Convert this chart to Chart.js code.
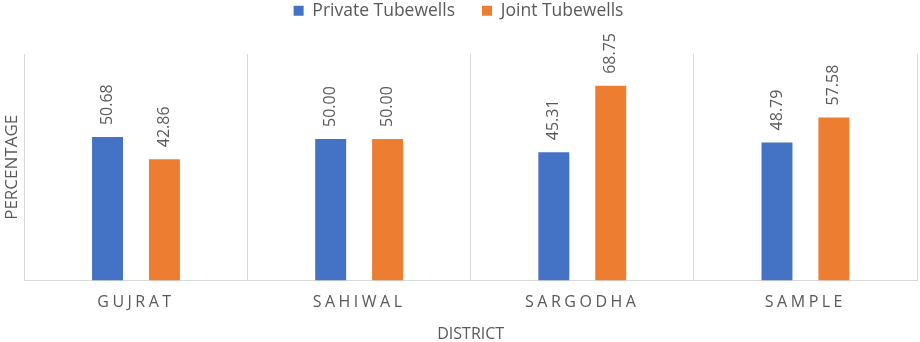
<!DOCTYPE html>
<html>
<head>
<meta charset="utf-8">
<script src="https://cdn.jsdelivr.net/npm/chart.js@4"></script>
<style>
  html, body { margin: 0; padding: 0; background: #ffffff; }
  #wrap { width: 920px; height: 342px; }
</style>
</head>
<body>
<div id="wrap"><canvas id="c" width="920" height="342"></canvas></div>
<script>
const categories = ["GUJRAT", "SAHIWAL", "SARGODHA", "SAMPLE"];
const privateTubewells = [50.68, 50.00, 45.31, 48.79];
const jointTubewells = [42.86, 50.00, 68.75, 57.58];
const seriesNames = ["Private Tubewells", "Joint Tubewells"];

const FONT = "'Open Sans', 'Noto Sans', sans-serif";
const TEXT = "#595959";
const GRID = "#D9D9D9";

const helpers = {
  id: "helpers",
  beforeLayout(chart) {
    const lg = chart.legend;
    if (lg && !lg._patched) {
      const fit = lg.fit;
      lg.fit = function () { fit.call(this); this.height = 79; };
      lg._patched = true;
    }
  },
  beforeDraw(chart) {
    const sx = chart.scales.x;
    if (sx && !sx._patched) {
      const orig = sx.drawLabels;
      sx.drawLabels = function (area) {
        const ctx = this.ctx;
        ctx.save();
        ctx.letterSpacing = "3.5px";
        orig.call(this, area);
        ctx.restore();
      };
      sx._patched = true;
    }
  },
  afterDatasetsDraw(chart) {
    const ctx = chart.ctx;
    chart.data.datasets.forEach((ds, di) => {
      const meta = chart.getDatasetMeta(di);
      meta.data.forEach((el, i) => {
        ctx.save();
        ctx.translate(el.x, el.y - 12);
        ctx.rotate(-Math.PI / 2);
        ctx.font = "16px " + FONT;
        ctx.fillStyle = TEXT;
        ctx.textAlign = "left";
        ctx.textBaseline = "middle";
        ctx.fillText(ds.data[i].toFixed(2), 0, 0);
        ctx.restore();
      });
    });
  }
};

new Chart(document.getElementById("c"), {
  type: "bar",
  data: {
    labels: categories,
    datasets: [
      { label: seriesNames[0], data: privateTubewells, backgroundColor: "#4472C4", borderWidth: 0 },
      { label: seriesNames[1], data: jointTubewells, backgroundColor: "#ED7D31", borderWidth: 0 }
    ]
  },
  options: {
    responsive: false,
    animation: false,
    devicePixelRatio: 1,
    categoryPercentage: 0.51,
    barPercentage: 0.544,
    layout: { padding: { top: -25, right: 3, left: 0, bottom: -2 } },
    plugins: {
      legend: {
        position: "top",
        labels: {
          boxWidth: 10, boxHeight: 10, padding: 27,
          color: TEXT, font: { family: FONT, size: 17.5 }
        }
      },
      tooltip: { enabled: false }
    },
    scales: {
      x: {
        offset: true,
        grid: { display: true, color: GRID, lineWidth: 1, drawTicks: false, offset: true },
        border: { display: true, color: GRID, width: 1 },
        ticks: { color: TEXT, font: { family: FONT, size: 16 }, padding: 12 },
        title: { display: true, text: "DISTRICT", color: TEXT, font: { family: FONT, size: 16 }, padding: { top: 1, bottom: 0 } }
      },
      y: {
        min: 0, max: 80,
        grid: { display: false, drawTicks: false },
        border: { display: false },
        ticks: { display: false },
        title: { display: true, text: "PERCENTAGE", color: TEXT, font: { family: FONT, size: 17 }, padding: { top: 2, bottom: 2 } }
      }
    }
  },
  plugins: [helpers]
});
</script>
</body>
</html>
